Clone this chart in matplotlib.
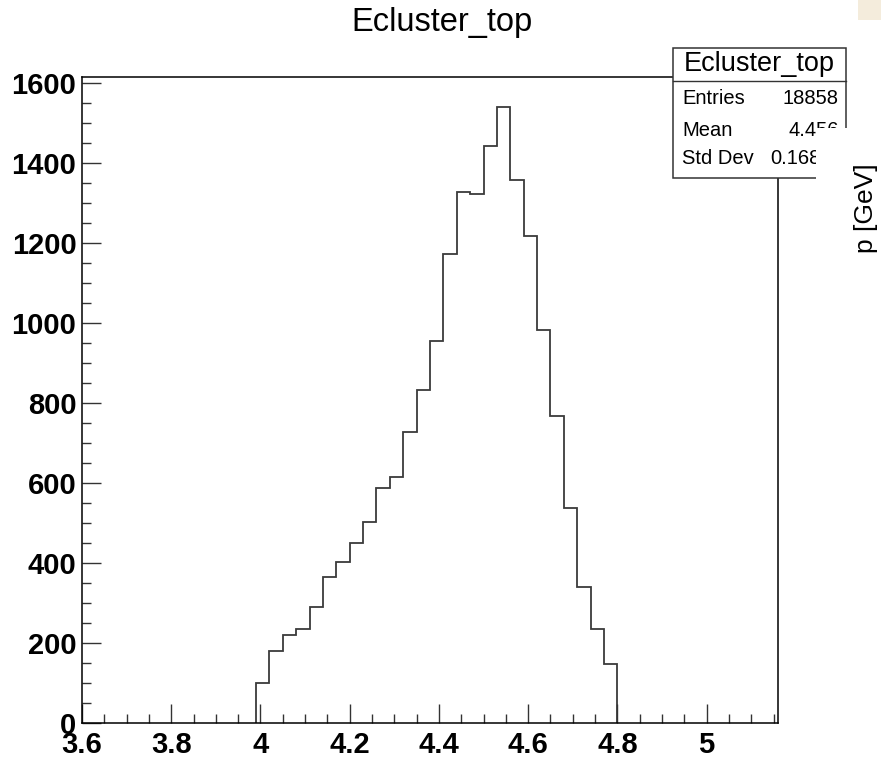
import numpy as np
import matplotlib.pyplot as plt
from matplotlib.ticker import MultipleLocator
from matplotlib.patches import Rectangle

plt.rcParams["font.family"] = ["Liberation Sans", "DejaVu Sans"]

# histogram Ecluster_top: 27 filled bins of width 0.03 starting at 3.99
bin_start = 3.99
bin_width = 0.03
counts = [101, 181, 221, 235, 291, 364, 403, 451, 503, 587, 616, 728, 833, 955,
          1172, 1327, 1324, 1442, 1540, 1358, 1217, 984, 767, 537, 341, 236, 148]

x_range = (3.6, 5.16)
y_max = 1617

hist_name = "Ecluster_top"
stat_labels = ["Entries", "Mean", "Std Dev"]
stat_values = ["18858", "4.456", "0.168"]
side_label = "p [GeV]"

W, H = 881, 758
fig = plt.figure(figsize=(W / 100, H / 100), dpi=100)

# pad frame in pixels: left 82, right 778, top 76.5, bottom 723
L, R, T, B = 82, 778, 76.5, 723
ax = fig.add_axes([L / W, (H - B) / H, (R - L) / W, (B - T) / H])

edges = bin_start + bin_width * np.arange(len(counts) + 1)
ax.stairs(counts, edges, color="#3a3a3a", linewidth=1.3)

ax.set_xlim(*x_range)
ax.set_ylim(0, y_max)
ax.xaxis.set_major_locator(MultipleLocator(0.2))
ax.xaxis.set_minor_locator(MultipleLocator(0.05))
ax.yaxis.set_major_locator(MultipleLocator(200))
ax.yaxis.set_minor_locator(MultipleLocator(50))
ax.xaxis.set_major_formatter(plt.FuncFormatter(lambda v, p: f"{v:g}"))
ax.tick_params(which="both", direction="in", top=False, right=False,
               width=1.0, color="#333333")
ax.tick_params(which="major", length=13.5)
ax.tick_params(which="minor", length=6.5)
ax.tick_params(axis="x", labelsize=21, pad=6)
ax.tick_params(axis="y", labelsize=21, pad=4)
for lab in ax.get_xticklabels() + ax.get_yticklabels():
    lab.set_fontweight("bold")
for sp in ax.spines.values():
    sp.set_linewidth(1.1)

fig.text(442 / W, 1 - 23 / H, hist_name, ha="center", va="center", fontsize=23.5)

# stats box
bx0, bx1, by0, by1, bsep = 672.5, 845.5, 47.5, 177.5, 81
box = Rectangle((bx0 / W, 1 - by1 / H), (bx1 - bx0) / W, (by1 - by0) / H,
                transform=fig.transFigure, facecolor="white", edgecolor="#333333",
                linewidth=1.1, zorder=5)
fig.add_artist(box)
fig.add_artist(plt.Line2D([bx0 / W, bx1 / W], [1 - bsep / H, 1 - bsep / H],
                          transform=fig.transFigure, color="#333333", lw=1.0, zorder=6))
fig.text((bx0 + bx1) / 2 / W, 1 - 64 / H, hist_name, ha="center", va="center",
         fontsize=19.5, zorder=7)
row_y = [99, 130, 159]
for i, (lab, val, yy) in enumerate(zip(stat_labels, stat_values, row_y)):
    fig.text(682 / W, 1 - yy / H, lab, ha="left", va="center", fontsize=14.5, zorder=7)
    if i == 2:
        fig.text(770 / W, 1 - yy / H, val, ha="left", va="center", fontsize=14.5, zorder=7)
    else:
        fig.text(839 / W, 1 - yy / H, val, ha="right", va="center", fontsize=14.5, zorder=7)

# white patch clipping the box on the right, as in the screenshot
fig.add_artist(Rectangle((816 / W, 0), 1 - 816 / W, 1 - 128 / H,
                         transform=fig.transFigure, facecolor="white",
                         edgecolor="none", zorder=8))
fig.text(866 / W, 1 - 208 / H, side_label, rotation=90, ha="center", va="center",
         fontsize=19, zorder=9)

# tinted corner
fig.add_artist(Rectangle((858 / W, 1 - 20 / H), 1 - 858 / W, 20 / H,
                         transform=fig.transFigure, facecolor="#f4ecdc",
                         edgecolor="none", zorder=1))

fig.savefig("out.png", dpi=100)
